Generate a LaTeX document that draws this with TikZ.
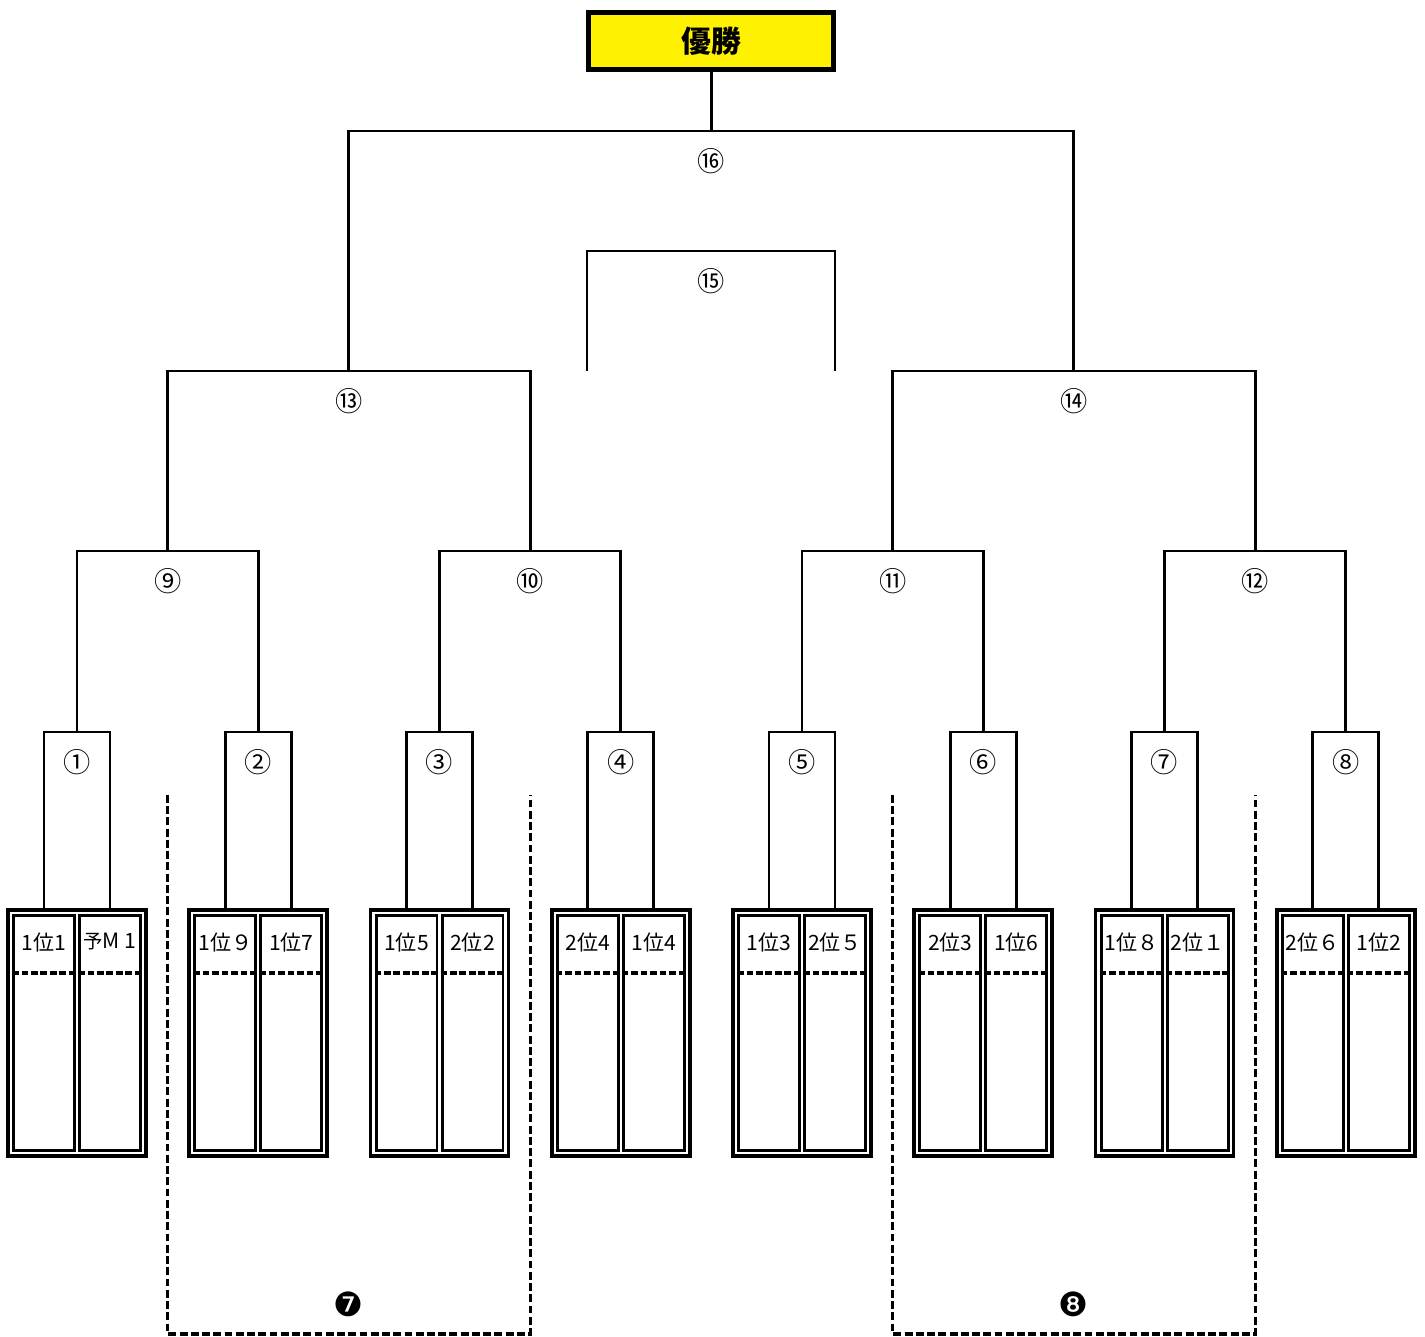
\documentclass[tikz,border=0pt]{standalone}
\usepackage{fontspec}
\usetikzlibrary{calc}
\newfontfamily\jpfont{Noto Sans CJK JP}
\newfontfamily\dvfont{DejaVu Sans}
\tikzset{
  bracket/.style={line width=1.6pt},
  frame/.style={draw, line width=2.1pt, minimum width=2.76cm, minimum height=4.92cm, inner sep=0pt},
  cell/.style={draw, line width=1.7pt, minimum width=1.22cm, minimum height=4.72cm, inner sep=0pt},
  team/.style={font=\jpfont\fontsize{12}{12}\selectfont, inner sep=0pt},
  num/.style={font=\jpfont\fontsize{15.5}{15.5}\selectfont, inner sep=0pt},
  cutline/.style={line width=1.8pt, dash pattern=on 3.8pt off 1.6pt},
  zone/.style={line width=1.8pt, dash pattern=on 4.5pt off 1.9pt},
  winbox/.style={draw, fill=yellow, line width=2.85pt, minimum width=4.9cm, minimum height=1.14cm,
    font=\jpfont\bfseries\fontsize{17}{17}\selectfont},
  groupnum/.style={font=\dvfont\fontsize{19}{19}\selectfont, inner sep=0pt},
}
\begin{document}
\begin{tikzpicture}[x=0.02cm,y=-0.02cm]
\useasboundingbox (0,0) rectangle (1425,1337);
\node[winbox] (win) at (711,41) {優勝};
% first round: teams and matches 1-8
\foreach \p/\s/\a/\b in {1/①/1位1/{{\fontsize{11}{11}\selectfont 予}M 1}, 2/②/1位９/1位7, 3/③/1位5/2位2, 4/④/2位4/1位4,
    5/⑤/1位3/2位５, 6/⑥/2位3/1位6, 7/⑦/1位８/2位１, 8/⑧/2位６/1位2} {
  \pgfmathsetmacro\cx{77+181.25*(\p-1)}
  \node[frame] (f\p) at (\cx,1033.3) {};
  \node[cell] (ca\p) at (\cx-33,1033) {};
  \node[cell] (cb\p) at (\cx+33,1033) {};
  \node[team] (ta\p) at (\cx-33,942) {\a};
  \node[team] (tb\p) at (\cx+33,942) {\b};
  \draw[cutline] (ca\p.west |- 0,973) -- (ca\p.east |- 0,973);
  \draw[cutline] (cb\p.west |- 0,973) -- (cb\p.east |- 0,973);
  \coordinate (m\p) at (\cx,732);
  \draw[bracket] (ca\p.north |- f\p.north) |- (m\p) -| (cb\p.north |- f\p.north);
  \node[num] (n\p) at (\cx,762) {\s};
}
% later rounds
\foreach \k/\i/\j/\y/\s in {9/1/2/551/⑨, 10/3/4/551/⑩, 11/5/6/551/⑪, 12/7/8/551/⑫,
    13/9/10/371/⑬, 14/11/12/371/⑭, 16/13/14/131/⑯} {
  \coordinate (h\k) at ($(m\i)!.5!(m\j)$);
  \coordinate (m\k) at (h\k |- 0,\y);
  \draw[bracket] (m\i) |- (m\k) -| (m\j);
  \node[num] (n\k) at ($(m\k)+(0,30)$) {\s};
}
\draw[bracket] (m16) -- (m16 |- win.south);
% third place
\coordinate (q1) at (587,371);
\coordinate (q2) at (835,371);
\coordinate (m15) at (711,251);
\draw[bracket] (q1) |- (m15) -| (q2);
\node[num] (n15) at (711,281) {⑮};
% dashed groups
\draw[zone] (m9 |- 0,795) |- (m10 |- 0,1334) -- (m10 |- 0,795);
\draw[zone] (m11 |- 0,795) |- (m12 |- 0,1334) -- (m12 |- 0,795);
\node[groupnum] (g7) at (m13 |- 0,1304) {❼};
\node[groupnum] (g8) at (m14 |- 0,1304) {❽};
\end{tikzpicture}
\end{document}
